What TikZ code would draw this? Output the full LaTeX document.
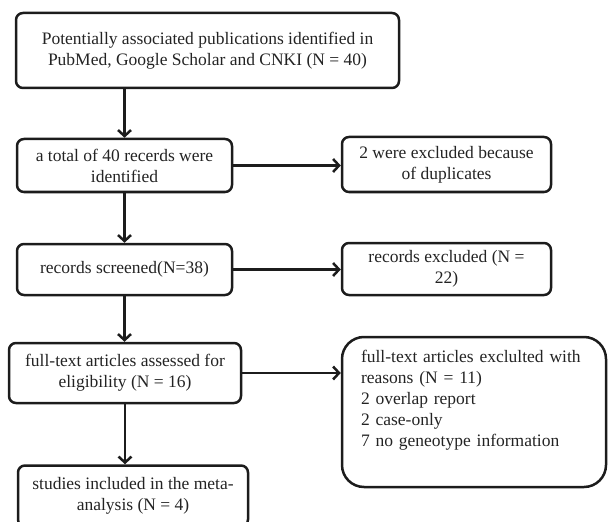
\documentclass[tikz,border=0pt]{standalone}
\usepackage{fontspec}
\setmainfont{Liberation Serif}
\usetikzlibrary{arrows.meta}

\definecolor{flowline}{RGB}{28,28,28}
\definecolor{flowtext}{RGB}{35,35,35}

\begin{document}
\begin{tikzpicture}[
  x=1pt, y=-1pt,
  stepbox/.style={
    draw=flowline,
    line width=2.5pt,
    rounded corners=7pt,
    align=center,
    text=flowtext,
    font=\fontsize{17.5}{21}\selectfont,
    inner sep=0pt
  },
  reasonbox/.style={
    stepbox,
    rounded corners=22pt,
    align=left,
    text width=226pt,
    inner xsep=19pt
  },
  flow/.style={
    draw=flowline,
    line width=2.5pt,
    -{Straight Barb[length=6pt,width=13pt,line width=2.5pt]}
  }
]
\useasboundingbox (0,0) rectangle (609,521);

\node[stepbox, minimum width=383pt, minimum height=75pt] (pub) at (207.5,50.5)
  {Potentially associated publications identified in\\PubMed, Google Scholar and CNKI (N = 40)};
\node[stepbox, minimum width=215pt, minimum height=53pt] (total) at (124.5,165.5)
  {a total of 40 recerds were\\identified};
\node[stepbox, minimum width=209pt, minimum height=55pt] (dup) at (446.5,164.5)
  {2 were excluded because\\of duplicates};
\node[stepbox, minimum width=215pt, minimum height=51pt] (screened) at (124.5,269.5)
  {records screened(N=38)};
\node[stepbox, minimum width=209pt, minimum height=52pt] (excluded) at (446.5,269)
  {records excluded (N =\\22)};
\node[stepbox, minimum width=232pt, minimum height=60pt] (fulltext) at (125,373)
  {full-text articles assessed for\\eligibility (N = 16)};
\node[reasonbox, minimum height=150pt] (reasons) at (474,412)
  {full-text articles exclulted with\\reasons (N = 11)\\2 overlap report\\2 case-only\\7 no geneotype information\\ \strut};
\node[stepbox, minimum width=230pt, minimum height=61pt] (studies) at (133,496)
  {studies included in the meta-\\analysis (N = 4)};

\draw[flow] (pub.south -| total.north) -- (total.north);
\draw[flow] (total.east) -- (total.east -| dup.west);
\draw[flow] (total.south) -- (screened.north);
\draw[flow] (screened.east) -- (screened.east -| excluded.west);
\draw[flow] (screened.south) -- (screened.south |- fulltext.north);
\draw[flow] (fulltext.east) -- (fulltext.east -| reasons.west);
\draw[flow] (fulltext.south) -- (fulltext.south |- studies.north);
\end{tikzpicture}
\end{document}
